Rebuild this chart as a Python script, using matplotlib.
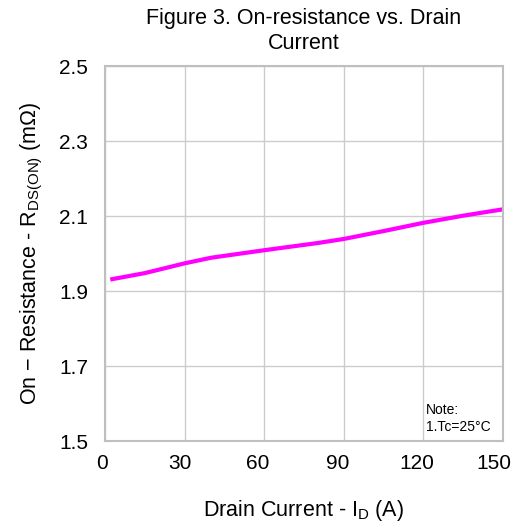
import matplotlib
matplotlib.use('Agg')
import matplotlib.pyplot as plt
import matplotlib.transforms as mtransforms

# drain current (A) and on-resistance (mOhm), Tc = 25 C
drain_current = [2, 15, 30, 40, 60, 80, 90, 105, 120, 135, 150]
r_ds_on = [1.931, 1.948, 1.974, 1.989, 2.009, 2.028, 2.039, 2.060, 2.082, 2.101, 2.118]

x_ticks = [0, 30, 60, 90, 120, 150]
y_ticks = [1.5, 1.7, 1.9, 2.1, 2.3, 2.5]

plt.rcParams['font.family'] = ['Liberation Sans', 'DejaVu Sans']

fig = plt.figure(figsize=(5.12, 5.24), dpi=100)
ax = fig.add_axes([0.205, 0.158, 0.777, 0.716])

ax.plot(drain_current, r_ds_on, color='#ff00ff', linewidth=3, solid_capstyle='butt')

ax.set_xlim(0, 150)
ax.set_ylim(1.5, 2.5)
ax.set_xticks(x_ticks)
ax.set_yticks(y_ticks)
ax.set_xticklabels([str(t) for t in x_ticks])
ax.set_yticklabels([f'{t:.1f}' for t in y_ticks])
ax.tick_params(length=0, labelsize=15)
ax.tick_params(axis='x', pad=9)
ax.tick_params(axis='y', pad=12)
ax.grid(True, color='#cccccc', linewidth=1)
for s in ax.spines.values():
    s.set_color('#bfbfbf')
    s.set_linewidth(1.5)

# x labels sit a little left of their gridlines, the last one more so
for lbl, dx in zip(ax.get_xticklabels(), [-3, -5, -6, -6, -6, -9]):
    lbl.set_transform(lbl.get_transform() + mtransforms.ScaledTranslation(dx / 100, 0, fig.dpi_scale_trans))

ax.set_title('Figure 3. On-resistance vs. Drain\nCurrent', fontsize=15.5, pad=12, linespacing=1.3)
ax.set_xlabel('Drain Current - I$_\\mathregular{D}$ (A)', fontsize=15.5, labelpad=18)
ax.set_ylabel('On \u2212 Resistance - R$_\\mathregular{DS(ON)}$ (m\u03a9)', fontsize=15.5, labelpad=10)

ax.text(0.806, 0.018, 'Note:\n1.Tc=25\u00b0C', transform=ax.transAxes, fontsize=10,
        ha='left', va='bottom', linespacing=1.35)

fig.savefig('out.png', dpi=100)
